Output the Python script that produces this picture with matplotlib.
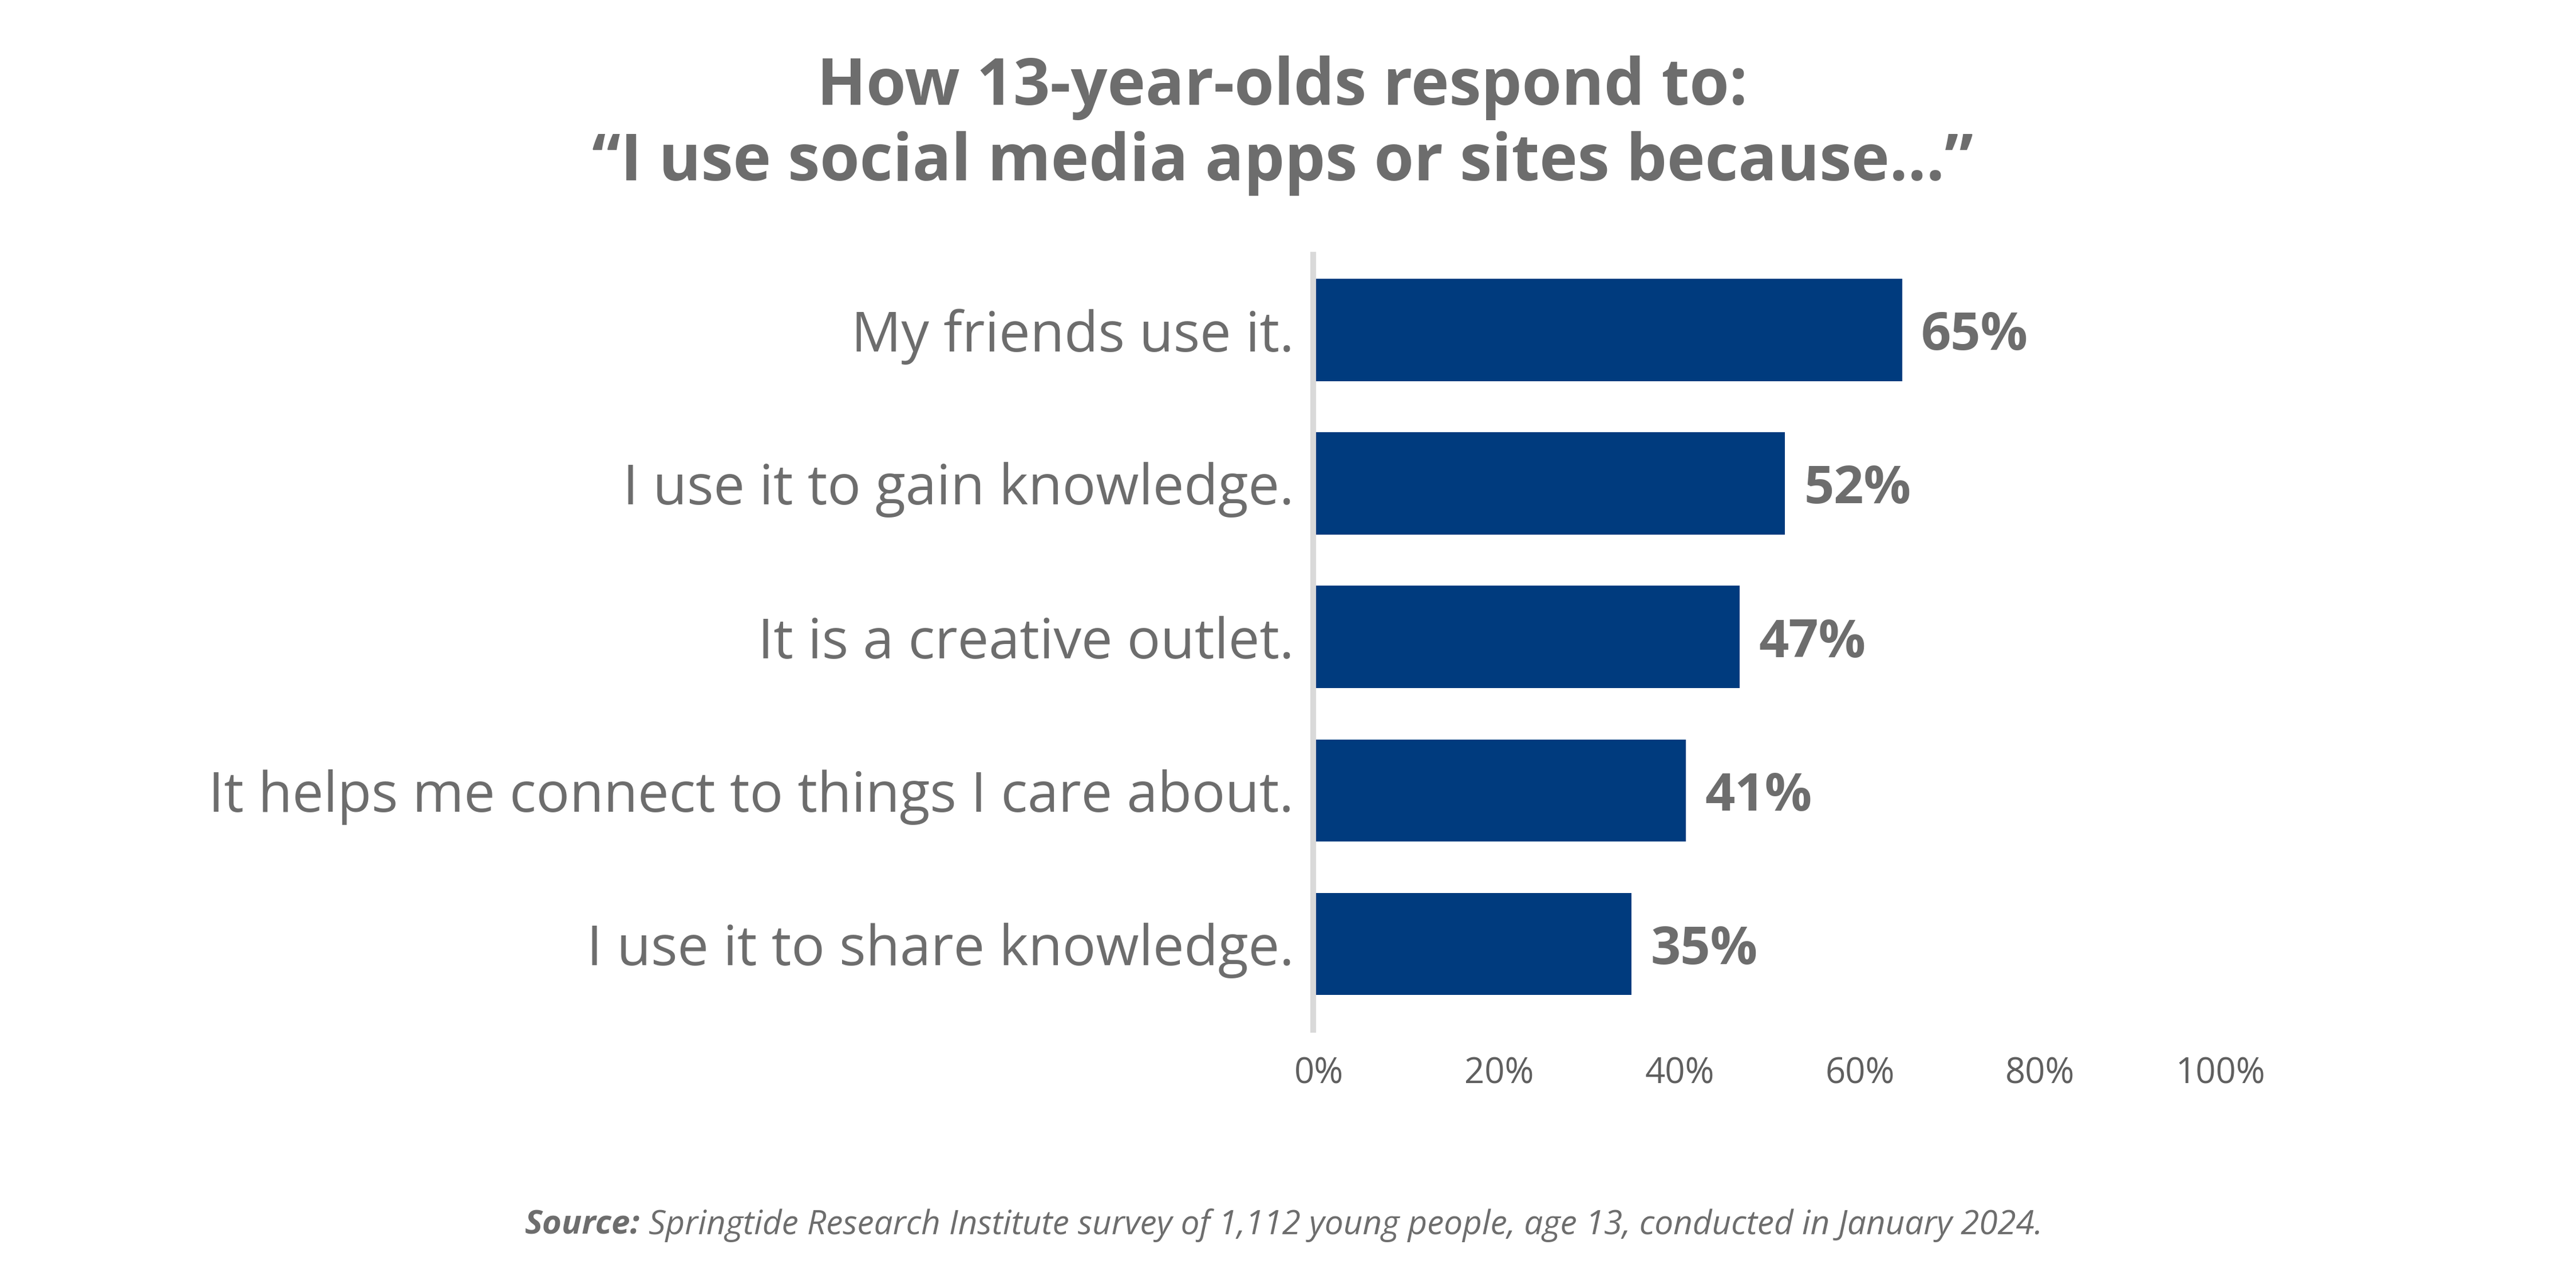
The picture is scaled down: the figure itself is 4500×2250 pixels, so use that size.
import matplotlib
matplotlib.use("Agg")
import matplotlib.pyplot as plt

categories = [
    "My friends use it.",
    "I use it to gain knowledge.",
    "It is a creative outlet.",
    "It helps me connect to things I care about.",
    "I use it to share knowledge.",
]
values = [65, 52, 47, 41, 35]
tick_values = [0, 20, 40, 60, 80, 100]
tick_labels = ["0%", "20%", "40%", "60%", "80%", "100%"]
title_lines = ["How 13-year-olds respond to:", "\u201cI use social media apps or sites because\u2026\u201d"]
source_bold = "Source:"
source_rest = " Springtide Research Institute survey of 1,112 young people, age 13, conducted in January 2024."

FONT = ["Open Sans", "DejaVu Sans"]
GRAY = "#6d6d6d"
BAR = "#003b7e"

plt.rcParams["font.family"] = FONT

W, H = 4500, 2250
fig = plt.figure(figsize=(15, 7.5), dpi=300)

left_px, right_px = 2291, 3874
top_px, bot_px = 445, 1799
ax = fig.add_axes([left_px / W, 1 - bot_px / H, (right_px - left_px) / W, (bot_px - top_px) / H])

y = list(range(len(categories)))
ax.barh(y, values, height=0.665, color=BAR, zorder=2)
ax.set_xlim(-0.5, 100)
ax.set_ylim(4.56, -0.49)

for s in ["top", "right", "bottom"]:
    ax.spines[s].set_visible(False)
ax.spines["left"].set_color("#d9d9d9")
ax.spines["left"].set_linewidth(2.4)
ax.spines["left"].set_position(("data", -0.5 + 0.16))

ax.set_yticks(y)
ax.set_yticklabels(categories, fontsize=23.3, color=GRAY)
ax.tick_params(axis="y", length=0, pad=8)
ax.set_xticks(tick_values)
ax.set_xticklabels(tick_labels, fontsize=14.8, color="#5f5f5f")
ax.tick_params(axis="x", length=0, pad=11)
import matplotlib.transforms as mtransforms
offset = mtransforms.ScaledTranslation(1.2 / 72, 0, fig.dpi_scale_trans)
for lab in ax.get_xticklabels():
    lab.set_transform(lab.get_transform() + offset)

for yi, v in zip(y, values):
    ax.annotate(f"{v}%", (v, yi), xytext=(8, 0), textcoords="offset points",
                ha="left", va="center_baseline", fontsize=22, fontweight="bold", color=GRAY)

fig.text(0.4978, 1 - 183 / H, title_lines[0], ha="center", va="baseline",
         fontsize=27, fontweight="bold", color=GRAY)
fig.text(0.4978, 1 - 315 / H, title_lines[1], ha="center", va="baseline",
         fontsize=27, fontweight="bold", color=GRAY)

# source line: bold-italic label + italic text, centred as a whole
renderer = fig.canvas.get_renderer()
t1 = fig.text(0, 1 - 2156 / H, source_bold, ha="left", va="baseline",
              fontsize=14.0, fontweight="bold", fontstyle="italic", color=GRAY)
t2 = fig.text(0, 1 - 2156 / H, source_rest, ha="left", va="baseline",
              fontsize=14.0, fontstyle="italic", color=GRAY)
w1 = t1.get_window_extent(renderer).width
w2 = t2.get_window_extent(renderer).width
total = w1 + w2
x0 = (2243 - total / 2) / W
t1.set_x(x0)
t2.set_x(x0 + w1 / W)

fig.savefig("out.png", dpi=300, facecolor="white")
